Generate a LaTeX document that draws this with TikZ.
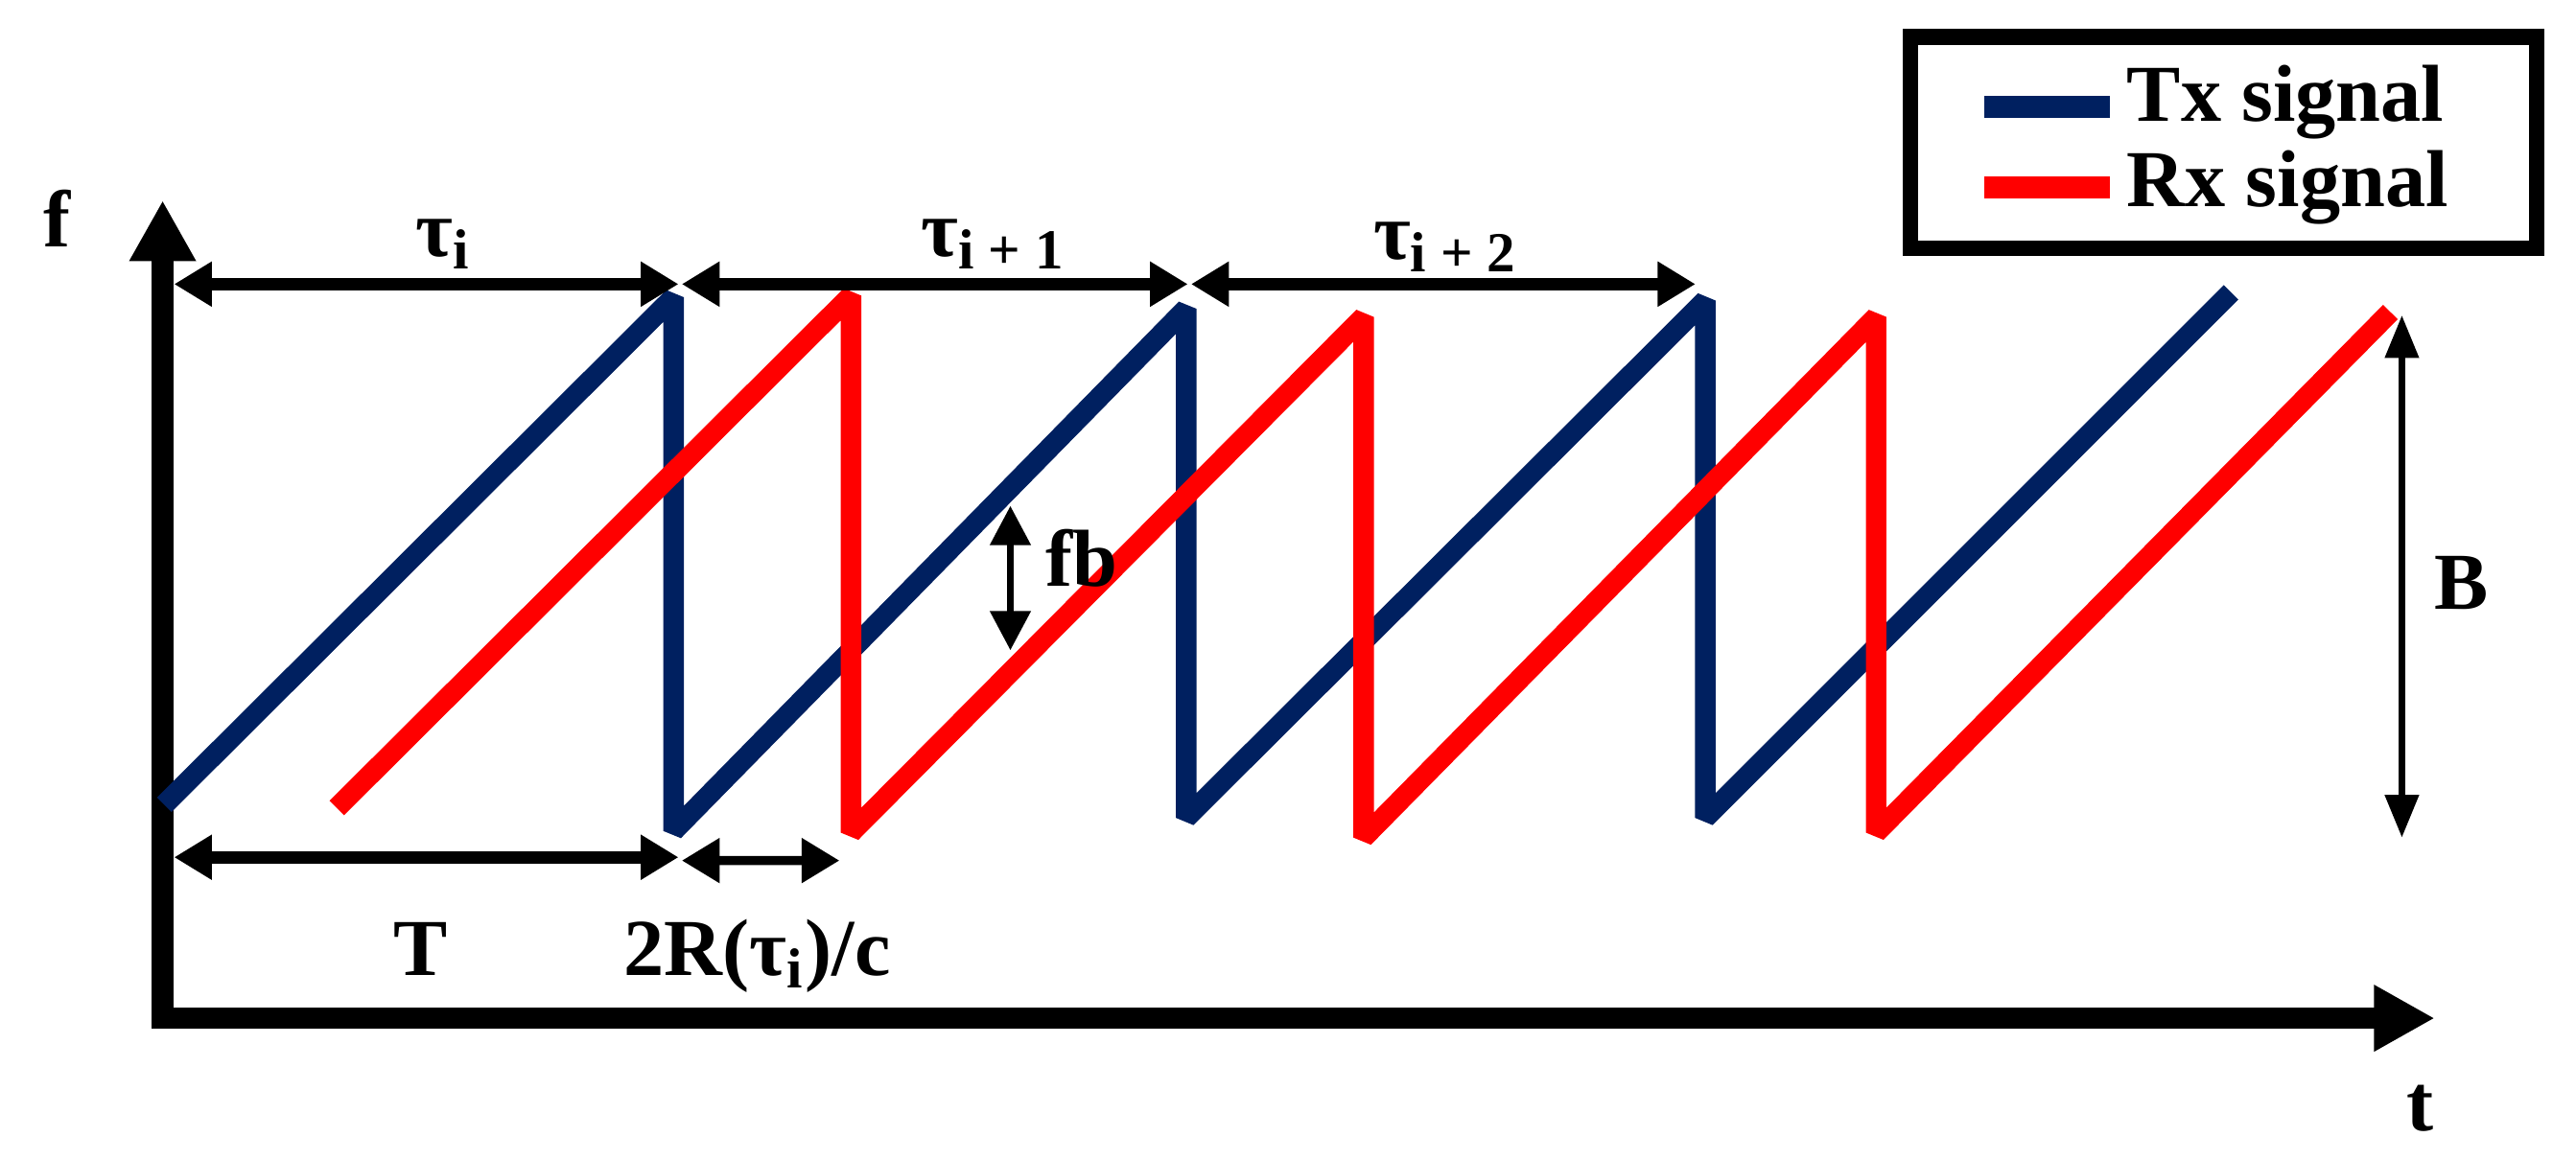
\documentclass[tikz,border=0pt]{standalone}
\usepackage{fontspec}
\setmainfont{Liberation Serif}
\usetikzlibrary{arrows.meta,positioning,calc}
\definecolor{txblue}{RGB}{0,32,96}
\definecolor{rxred}{RGB}{255,0,0}

\begin{document}
\begin{tikzpicture}[
    lbl/.style={font=\fontsize{14}{16}\selectfont\bfseries, inner sep=0pt},
    sig/.style={line width=0.125cm, line join=bevel},
    axisline/.style={line width=0.13cm, line join=miter,
        {Triangle[length=0.37cm,width=0.38cm]}-{Triangle[length=0.37cm,width=0.38cm]}},
    span/.style={line width=0.075cm,
        {Triangle[length=0.23cm,width=0.26cm]}-{Triangle[length=0.23cm,width=0.26cm]}},
    gap/.style={line width=0.045cm,
        {Triangle[length=0.24cm,width=0.24cm]}-{Triangle[length=0.24cm,width=0.24cm]}}
]
    \useasboundingbox (0,0) rectangle (15.68,7.06);

    % axes
    \coordinate (ftop) at (0.99,5.84);
    \coordinate (origin) at (0.99,0.86);
    \coordinate (tend) at (14.82,0.86);
    \draw[axisline] (ftop) -- (origin) -- (tend);
    \node[lbl] (flbl) at (0.35,5.73) {f};
    \node[lbl] (tlbl) at (14.73,0.31) {t};

    % Tx and Rx chirps
    \draw[sig, txblue] (1.00,2.16) -- (4.10,5.25) -- (4.10,2.00) -- (7.22,5.18)
        -- (7.22,2.08) -- (10.38,5.23) -- (10.38,2.08) -- (13.58,5.28);
    \draw[sig, rxred] (2.05,2.14) -- (5.18,5.26) -- (5.18,1.99) -- (8.30,5.13)
        -- (8.30,1.96) -- (11.42,5.13) -- (11.42,1.99) -- (14.55,5.16);

    % chirp periods
    \coordinate (p0) at (1.06,5.33);
    \coordinate (p1) at (4.13,5.33);
    \coordinate (p2) at (7.23,5.33);
    \coordinate (p3) at (10.32,5.33);
    \draw[span] (p0) -- (p1);
    \draw[span] ($(p1)+(0.02,0)$) -- (p2);
    \draw[span] ($(p2)+(0.02,0)$) -- (p3);
    \node[lbl, anchor=base] (taui) at (2.70,5.50) {τ\textsubscript{i}};
    \node[lbl, anchor=base] (tauii) at (6.05,5.50) {τ\textsubscript{i + 1}};
    \node[lbl, anchor=base] (tauiii) at (8.80,5.48) {τ\textsubscript{i + 2}};

    % sweep time and delay
    \coordinate (s0) at (1.06,1.84);
    \coordinate (s1) at (4.13,1.84);
    \coordinate (s2) at (5.11,1.82);
    \draw[span] (s0) -- (s1);
    \draw[span, line width=0.055cm] ($(s1)+(0.02,-0.02)$) -- (s2);
    \node[lbl, anchor=base] (Tlbl) at (2.56,1.12) {T};
    \node[lbl, anchor=base] (rlbl) at (4.61,1.12) {2R(τ\textsubscript{i})/c};

    % beat frequency and bandwidth
    \coordinate (fbtop) at (6.15,3.98);
    \coordinate (fbbot) at (6.15,3.10);
    \draw[gap] (fbtop) -- (fbbot);
    \node[lbl, anchor=west] (fblbl) at (6.36,3.66) {fb};
    \coordinate (btop) at (14.62,5.14);
    \coordinate (bbot) at (14.62,1.96);
    \draw[line width=0.04cm, {Triangle[length=0.26cm,width=0.2cm]}-{Triangle[length=0.26cm,width=0.2cm]}] (btop) -- (bbot);
    \node[lbl] (Blbl) at (14.98,3.51) {B};

    % legend
    \draw[line width=0.095cm] (11.63,5.55) rectangle (15.44,6.835);
    \draw[line width=0.135cm, txblue] (12.08,6.41) -- (12.84,6.41);
    \draw[line width=0.135cm, rxred] (12.08,5.92) -- (12.84,5.92);
    \node[lbl, anchor=base west] (txlbl) at (12.94,6.32) {Tx signal};
    \node[lbl, anchor=base west] (rxlbl) at (12.94,5.80) {Rx signal};
\end{tikzpicture}
\end{document}
